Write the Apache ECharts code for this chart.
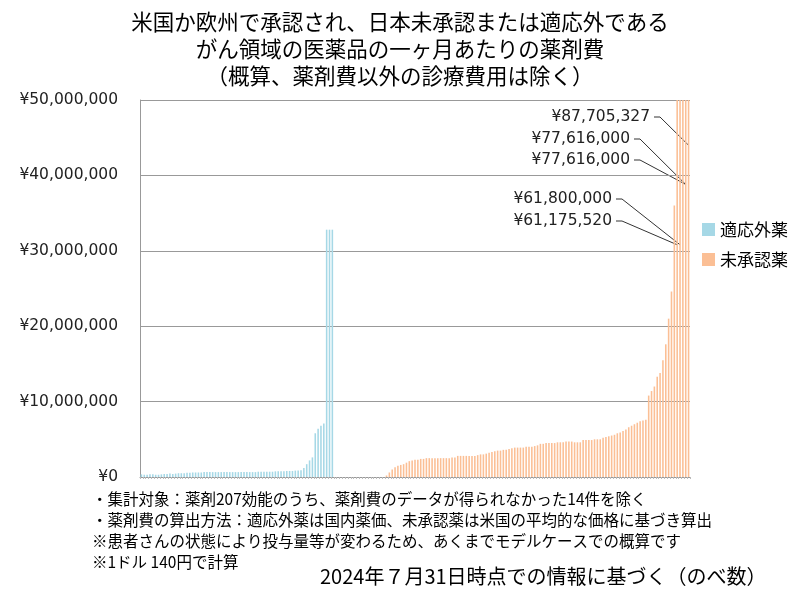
<!DOCTYPE html>
<html><head><meta charset="utf-8">
<script src="https://cdn.jsdelivr.net/npm/echarts@6/dist/echarts.min.js"></script>
<style>html,body{margin:0;padding:0;background:#fff}#c{width:805px;height:600px}</style>
</head><body><div id="c"></div>
<script>
// values in yen (millions)
const blueValues = [0.35,0.3,0.3,0.35,0.35,0.3,0.3,0.35,0.4,0.4,0.45,0.4,0.45,0.5,0.5,0.5,0.55,0.55,0.6,0.6,
0.6,0.6,0.65,0.65,0.65,0.65,0.65,0.65,0.65,0.65,0.65,0.65,0.65,0.65,0.65,0.65,0.65,0.65,0.65,0.65,
0.65,0.7,0.7,0.7,0.7,0.7,0.7,0.75,0.75,0.75,0.75,0.8,0.8,0.8,0.85,0.85,0.9,
1.2,1.7,2.2,2.6,5.8,6.4,6.8,7.1,32.8,32.8,32.8];
const orangeValues = [0.2,0.6,1.0,1.3,1.5,1.6,1.7,1.9,2.1,2.2,2.3,2.3,2.4,2.4,2.5,2.5,2.5,2.5,2.5,2.5,
2.5,2.5,2.5,2.6,2.6,2.8,2.8,2.8,2.8,2.8,2.8,2.8,2.9,3.0,3.0,3.1,3.2,3.3,3.4,3.5,
3.5,3.6,3.6,3.7,3.8,3.9,3.9,3.9,3.9,4.0,4.0,4.0,4.1,4.2,4.4,4.4,4.5,4.5,4.5,4.5,
4.6,4.6,4.6,4.7,4.7,4.7,4.6,4.6,4.6,4.9,4.9,4.9,4.9,5.0,5.0,5.0,5.2,5.3,5.4,5.5,
5.6,5.8,5.9,6.1,6.3,6.6,6.8,7.0,7.2,7.4,7.5,7.6,
10.8,11.4,12.0,13.3,13.8,15.5,17.6,21.0,24.6,36.0,
61.175520,61.8,77.616,77.616,87.705327];
const totalCount = 193;
const annotationLabels = ['¥87,705,327','¥77,616,000','¥77,616,000','¥61,800,000','¥61,175,520'];
const seriesNames = ['適応外薬','未承認薬'];

const gap = totalCount - blueValues.length - orangeValues.length;
const cats = [], blue = [], orange = [];
for (let i=0;i<totalCount;i++){
  cats.push(String(i+1));
  const oi = i - blueValues.length - gap;
  blue.push(i<blueValues.length ? blueValues[i]*1e6 : null);
  orange.push(oi>=0 ? orangeValues[oi]*1e6 : null);
}
const chart = echarts.init(document.getElementById('c'));
const F = '"Noto Sans CJK JP","Noto Sans",sans-serif';
chart.setOption({
  animation:false,
  title:{text:'米国か欧州で承認され、日本未承認または適応外である\nがん領域の医薬品の一ヶ月あたりの薬剤費\n（概算、薬剤費以外の診療費用は除く）',
    left:395, top:3, textAlign:'center',
    textStyle:{fontFamily:F,fontSize:21.5,fontWeight:'normal',color:'#000',lineHeight:27}},
  legend:{orient:'vertical',left:697,top:216,itemGap:13,itemWidth:13,itemHeight:13,icon:'rect',
    textStyle:{fontFamily:F,fontSize:17,color:'#000'},data:seriesNames},
  grid:{left:140,right:115,top:100,bottom:123},
  xAxis:{type:'category',data:cats,axisLine:{lineStyle:{color:'#999'}},
    axisTick:{show:true,interval:0,length:2,lineStyle:{color:'#bbb'}},axisLabel:{show:false}},
  yAxis:{type:'value',min:0,max:50e6,interval:10e6,
    axisLine:{show:true,lineStyle:{color:'#999'}},
    splitLine:{lineStyle:{color:'#999'}},
    axisLabel:{fontFamily:'"DejaVu Sans"',fontSize:15.5,color:'#222',margin:22,
      formatter:v=>'¥'+Math.round(v).toLocaleString('en-US')}},
  series:[
    {name:seriesNames[0],type:'bar',data:blue,barWidth:'55%',barGap:'-100%',itemStyle:{color:'#a6d8e6'}},
    {name:seriesNames[1],type:'bar',data:orange,barWidth:'55%',barGap:'-100%',itemStyle:{color:'#fbbf95'}}
  ],
  graphic:[
    {type:'text',left:92,top:489,style:{fontFamily:F,fontSize:15.5,fill:'#000',lineHeight:21,
      text:'・集計対象：薬剤207効能のうち、薬剤費のデータが得られなかった14件を除く\n・薬剤費の算出方法：適応外薬は国内薬価、未承認薬は米国の平均的な価格に基づき算出\n※患者さんの状態により投与量等が変わるため、あくまでモデルケースでの概算です\n※1ドル 140円で計算'}},
    {type:'text',left:320,top:566,style:{fontFamily:F,fontSize:20,fill:'#000',text:'2024年７月31日時点での情報に基づく（のべ数）'}}
  ]
});
// annotations
const n = totalCount;
const anchors = [[n-1,44e6],[n-2,38.8e6],[n-2,38.8e6],[n-4,30.8e6],[n-5,30.8e6]];
const textPos = [[650,117],[630,139],[630,160],[612,199],[612,221]];
const extra = [];
annotationLabels.forEach((t,i)=>{
  const p = chart.convertToPixel({xAxisIndex:0,yAxisIndex:0},anchors[i]);
  const [tx,ty]=textPos[i];
  extra.push({type:'text',x:tx,y:ty,style:{text:t,fontFamily:'"DejaVu Sans"',fontSize:15.5,fill:'#222',align:'right',verticalAlign:'middle'}});
  extra.push({type:'polyline',shape:{points:[[tx+4,ty],[tx+10,ty],p]},style:{stroke:'#333',lineWidth:1,fill:null}});
});
chart.setOption({graphic:extra.map((e,i)=>Object.assign({id:'a'+i},e))});
</script></body></html>
